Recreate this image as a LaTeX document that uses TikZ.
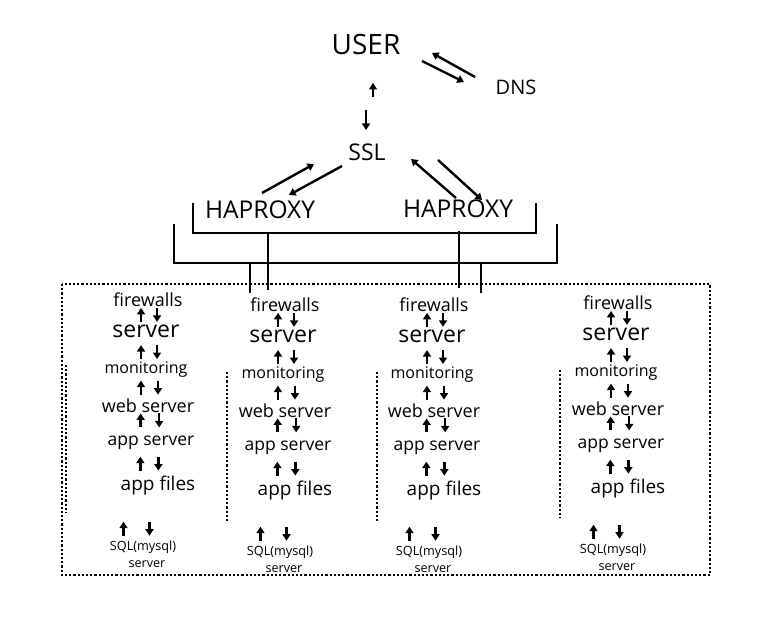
\documentclass[tikz,border=0pt]{standalone}
\usepackage{fontspec}
\setmainfont{Open Sans}
\usetikzlibrary{arrows.meta,calc}

\newcommand\fs[1]{\fontsize{#1}{#1}\selectfont}
% pair of up/down arrows around a coordinate
\newcommand\updn[3]{%
	\draw[arr] ([shift={(#2,7)}]#1) -- ([shift={(#2,-7)}]#1);
	\draw[arr] ([shift={(#3,-7)}]#1) -- ([shift={(#3,7)}]#1);}

\begin{document}
\begin{tikzpicture}[x=1pt,y=-1pt,
	lbl/.style={inner sep=0pt,font=\fs{#1}},
	arr/.style={line width=2.4pt,-{Triangle[length=6.5pt,width=8pt]}},
	bar/.style={line width=2.4pt},
	dots/.style={line width=2.4pt,dash pattern=on 2.2pt off 2pt}]
	\useasboundingbox (0,0) rectangle (757,631);

	% top part
	\node[lbl=28] (user) at (366,45) {USER};
	\node[lbl=20] (dns) at (516,87) {DNS};
	\node[lbl=23] (ssl) at (367,152) {SSL};
	\node[lbl=24.5] (hl) at (260,210) {HAPROXY};
	\node[lbl=24.5] (hr) at (458,209) {HAPROXY};

	\draw[arr] ([shift={(-41,-10)}]dns.center) -- ([shift={(66,8)}]user.center);
	\draw[arr] ([shift={(56,16)}]user.center) -- ([shift={(-52,-5)}]dns.center);
	\draw[arr] ([shift={(6,-55)}]ssl.center) -- ([shift={(7,38)}]user.center);
	\draw[arr] ([shift={(0,65)}]user.center) -- ([shift={(-1,-22)}]ssl.center);
	\draw[arr] ([shift={(2,-17)}]hl.center) -- ([shift={(-53,12)}]ssl.center);
	\draw[arr] ([shift={(-25,14)}]ssl.center) -- ([shift={(29,-15)}]hl.center);
	\draw[arr] ([shift={(-2,-11)}]hr.center) -- ([shift={(44,7)}]ssl.center);
	\draw[arr] ([shift={(71,8)}]ssl.center) -- ([shift={(24,-9)}]hr.center);

	% brackets
	\draw[bar] (193,203) -- (193,233) -- (536,233) -- (536,203);
	\draw[bar] (174,224) -- (174,263) -- (557,263) -- (557,224);
	\draw[bar] (268,233) -- (268,290);
	\draw[bar] (459,231) -- (459,288);
	\draw[bar] (250,263) -- (250,293);
	\draw[bar] (481,263) -- (481,293);

	% server box
	\draw[dots] (62,284) rectangle (710,575);
	\draw[dots] (66,365) -- (66,513);
	\draw[dots] (227,372) -- (227,522);
	\draw[dots] (377,372) -- (377,522);
	\draw[dots] (560,370) -- (560,518);

	\foreach \c/\cx/\cy in {a/148/300,b/285/305,c/434/305,d/618/303}{
		\node[lbl=18] (\c-fw) at (\cx,\cy) {firewalls};
		\node[lbl=23] (\c-sv) at (\cx-2,\cy+31) {server};
		\node[lbl=16] (\c-mon) at (\cx-2,\cy+70) {monitoring};
		\node[lbl=18] (\c-web) at (\cx,\cy+106) {web server};
		\node[lbl=17.5] (\c-app) at (\cx+3,\cy+143) {app server};
		\node[lbl=19] (\c-file) at (\cx+10,\cy+186) {app files};
		\node[lbl=12.7] (\c-sql) at (\cx-5,\cy+247) {SQL(mysql)};
		\node[lbl=12.6] (\c-sqls) at (\cx-1,\cy+264) {server};

		\coordinate (\c-m1) at ($(\c-fw)!.48!(\c-sv)$);
		\coordinate (\c-m2) at ($(\c-sv)!.54!(\c-mon)$);
		\coordinate (\c-m3) at ($(\c-mon)!.49!(\c-web)$);
		\coordinate (\c-m4) at ($(\c-web)!.39!(\c-app)$);
		\coordinate (\c-m5) at ($(\c-app)!.48!(\c-file)$);
		\coordinate (\c-m6) at ($(\c-file)!.70!(\c-sql)$);
		\updn{\c-m1}{-6}{10}
		\updn{\c-m2}{-5}{11}
		\updn{\c-m3}{-6}{11}
		\updn{\c-m4}{-8.5}{10}
		\updn{\c-m5}{-14}{4}
		\updn{\c-m6}{-24}{2}
	}
\end{tikzpicture}
\end{document}
